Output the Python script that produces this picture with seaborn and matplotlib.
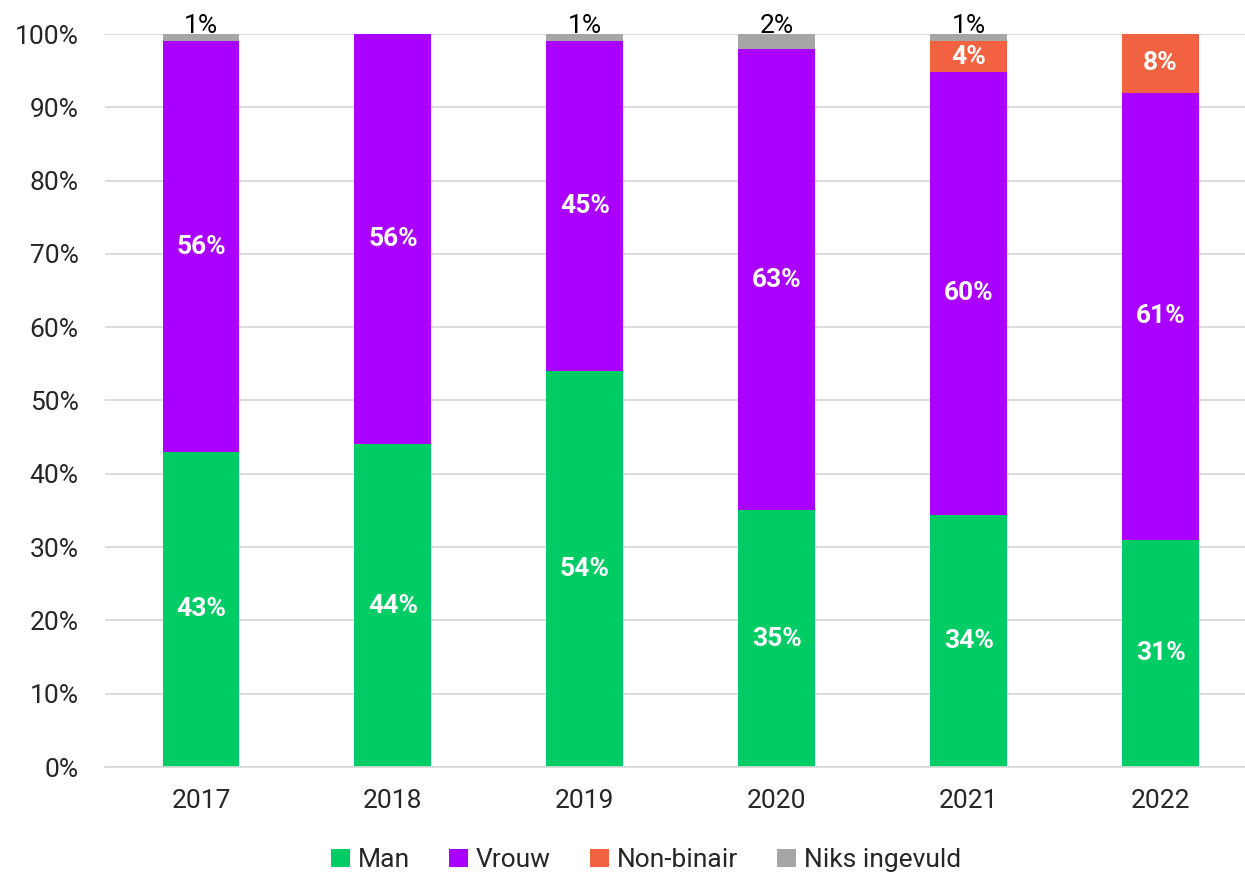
import matplotlib
matplotlib.use("Agg")
import matplotlib.pyplot as plt
import seaborn as sns
import numpy as np
import pandas as pd
from matplotlib.patches import Patch

years = ["2017", "2018", "2019", "2020", "2021", "2022"]
man = [43, 44, 54, 35, 34.4, 31]
vrouw = [56, 56, 45, 63, 60.4, 61]
non_binair = [0, 0, 0, 0, 4.2, 8]
niks = [1, 0, 1, 2, 1, 0]
series_names = ["Man", "Vrouw", "Non-binair", "Niks ingevuld"]
colors = ["#00CC66", "#AA00FF", "#F26140", "#A6A6A6"]

sns.set_theme(style="white")
plt.rcParams['font.family'] = ['Roboto', 'DejaVu Sans']

fig = plt.figure(figsize=(12.45, 8.72), dpi=100)
ax = fig.add_axes([105/1245, 1 - 767/872, (1245-105)/1245, (767-34)/872])

FS = 19
series = [man, vrouw, non_binair, niks]
bottom = np.zeros(len(years))
for name, vals, col in zip(series_names, series, colors):
    vals = np.array(vals, dtype=float)
    df = pd.DataFrame({"year": years, "v": vals})
    sns.barplot(data=df, x="year", y="v", color=col, width=0.4, bottom=bottom,
                ax=ax, saturation=1, linewidth=0, zorder=3)
    for i, v in enumerate(vals):
        if v <= 0:
            continue
        if name == "Niks ingevuld":
            ax.text(i, bottom[i] + v - 0.6, f"{v:.0f}%", ha="center", va="bottom",
                    fontsize=FS, color="#000000", zorder=5)
        else:
            ax.text(i, bottom[i] + v / 2, f"{v:.0f}%", ha="center", va="center",
                    fontsize=FS, fontweight="bold", color="white", zorder=5)
    bottom = bottom + vals

ax.set_ylim(0, 100)
ax.set_xlim(-0.5, 5.44)
ax.set_yticks(np.arange(0, 101, 10))
ax.set_yticklabels([f"{t}%" for t in range(0, 101, 10)], fontsize=FS)
ax.tick_params(axis="x", labelsize=FS, pad=16, length=0)
ax.tick_params(axis="y", length=0, pad=19)
ax.set_xlabel("")
ax.set_ylabel("")
ax.yaxis.grid(True, color="#D9D9D9", linewidth=1.3, zorder=0)
ax.set_axisbelow(True)
for s in ["top", "right", "left"]:
    ax.spines[s].set_visible(False)
ax.spines["bottom"].set_color("#D9D9D9")
ax.spines["bottom"].set_linewidth(1.3)
ax.spines["bottom"].set_zorder(4)

handles = [Patch(facecolor=c, edgecolor="none") for c in colors]
fig.legend(handles, series_names, loc="center", bbox_to_anchor=(646/1245, 1 - 860/872),
           ncol=4, frameon=False, fontsize=FS, handlelength=0.7, handleheight=0.7,
           handletextpad=0.3, columnspacing=1.5)

fig.savefig("out.png", dpi=100)
